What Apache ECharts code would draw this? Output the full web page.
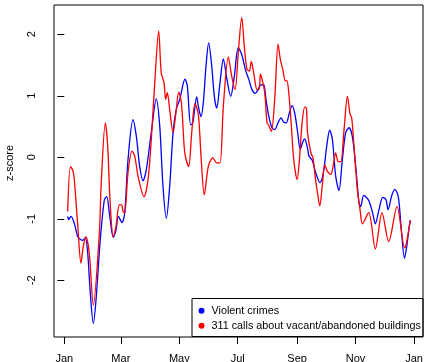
<!DOCTYPE html>
<html>
<head>
<meta charset="utf-8">
<script src="https://cdn.jsdelivr.net/npm/echarts@6/dist/echarts.min.js"></script>
<style>
  html, body { margin: 0; padding: 0; background: #fff; }
  #chart { width: 424px; height: 362px; }
</style>
</head>
<body>
<div id="chart"></div>
<script>
// day of year (0 = Jan 1) and z-score
var crimeDays = [3.5, 4.6, 7.0, 10.4, 14.0, 17.4, 19.2, 21.9, 24.4, 27.1, 30.3, 33.1, 37.3, 41.8, 44.3, 47.0, 51.1, 54.0, 56.4, 60.2, 63.0,
  66.5, 71.7, 75.2, 78.7, 82.2, 85.6, 90.8, 96.0, 99.6, 103.0, 106.5, 110.0, 113.5, 116.9, 120.5, 126.0, 128.4, 131.9, 134.0,
  138.2, 139.9, 142.7, 145.1, 147.9, 150.7, 153.9, 156.6, 159.1, 162.5, 166.0, 169.5, 173.7, 177.5, 181.6, 185.2, 188.9,
  192.5, 195.9, 199.4, 202.2, 204.6, 208.1, 210.5, 213.4, 216.8, 219.6, 223.1, 226.2, 229.0, 231.7, 234.9, 237.7, 240.5,
  243.6, 246.3, 248.9, 250.9, 254.1, 255.4, 258.9, 262.4, 266.9, 270.4, 273.9, 277.0, 279.8, 283.3, 286.7, 290.2, 293.7,
  297.2, 300.6, 304.2, 307.6, 309.4, 312.5, 317.7, 321.9, 324.6, 328.5, 332.4, 335.8, 337.9, 341.8, 344.9, 348.6, 351.5,
  355.1, 357.4, 360.1, 361.2];
var crimeZ = [-0.96, -1.01, -0.96, -1.07, -1.29, -1.34, -1.35, -1.31, -1.55, -2.2, -2.70, -2.32, -1.39, -0.69, -0.64, -0.90, -1.30, -1.18, -0.96, -1.06, -0.91,
  -0.04, 0.61, 0.34, -0.15, -0.38, -0.20, 0.40, 0.95, 0.51, -0.47, -0.99, -0.47, 0.40, 0.78, 0.94, 1.27, 1.16, 0.53, 0.55,
  0.98, 0.83, 0.66, 0.89, 1.48, 1.86, 1.48, 0.99, 0.80, 1.21, 1.60, 1.29, 0.99, 1.32, 1.78, 1.67, 1.43,
  1.27, 1.10, 1.04, 1.10, 1.17, 1.18, 0.94, 0.67, 0.48, 0.45, 0.56, 0.64, 0.57, 0.56, 0.72, 0.84, 0.72,
  0.40, 0.13, 0.25, 0.30, 0.13, 0.02, -0.05, -0.25, -0.41, -0.25, 0.18, 0.44, 0.29, -0.31, -0.54, -0.04, 0.40,
  0.48, 0.34, -0.15, -0.74, -0.80, -0.62, -0.70, -0.91, -1.08, -0.85, -0.65, -0.69, -0.85, -0.62, -0.52, -0.64, -1.12,
  -1.64, -1.45, -1.12, -1.03];

var callDays = [3.5, 6.5, 9.0, 10.4, 14.0, 17.4, 19.8, 22.5, 26.0, 30.3, 36.6, 38.4, 42.8, 45.3, 47.7, 51.1, 54.0, 57.5, 60.0, 61.4, 63.0,
  66.5, 70.7, 73.5, 77.0, 83.2, 87.4, 90.8, 94.4, 98.5, 101.2, 104.1, 105.8, 107.5, 110.0, 113.5, 116.9, 119.4, 122.2, 125.0,
  126.3, 129.8, 133.0, 136.4, 139.9, 142.7, 146.1, 150.3, 154.9, 159.1, 162.5, 166.0, 171.2, 174.7, 178.2, 181.6, 185.2,
  188.2, 190.7, 193.1, 195.2, 197.7, 201.2, 203.6, 204.6, 206.4, 209.2, 211.6, 213.4, 216.1, 219.6, 223.1, 225.5, 228.0,
  230.8, 232.2, 234.3, 237.0, 239.5, 243.0, 245.4, 248.2, 251.0, 252.7, 253.9, 257.4, 259.6, 261.8, 264.3, 266.6, 269.4,
  271.9, 274.6, 278.2, 280.5, 283.3, 286.0, 288.6, 292.0, 295.5, 298.3, 300.0, 302.4, 305.9, 308.7, 311.2, 317.7, 324.6,
  331.6, 338.6, 347.3, 355.3, 356.5, 361.2];
var callZ = [-0.88, -0.15, -0.22, -0.35, -1.1, -1.72, -1.45, -1.29, -1.55, -2.40, -1.23, -0.47, 0.56, 0.18, -0.69, -1.29, -1.12, -0.77, -0.78, -0.88, -0.91,
  -0.25, 0.10, 0.02, -0.31, -0.64, -0.36, 0.29, 1.21, 2.05, 1.37, 1.21, 0.94, 1.05, 0.78, 0.40, 0.78, 1.06, 0.89, 0.20,
  0.02, -0.15, 0.40, 0.87, 0.70, 0.02, -0.61, -0.15, -0.01, -0.09, -0.09, 0.83, 1.63, 1.32, 1.10, 1.70, 2.27,
  1.75, 1.43, 1.40, 1.56, 1.37, 1.10, 1.12, 1.35, 1.27, 1.05, 0.56, 0.52, 0.42, 0.94, 1.84, 1.59, 1.43,
  1.24, 1.25, 1.05, 0.51, -0.04, -0.36, -0.04, 0.56, 0.82, 0.80, 0.40, 0.07, -0.01, -0.31, -0.58, -0.79, -0.44,
  -0.12, -0.23, -0.28, -0.15, 0.07, -0.07, -0.07, 0.45, 0.99, 0.70, 0.64, 0.18, -0.53, -0.85, -1.08, -0.90, -1.49,
  -0.90, -1.37, -0.80, -1.47, -1.44, -1.02];

var monthDays = [0, 59, 120, 181, 243, 304, 365];
var monthLabels = ['Jan', 'Mar', 'May', 'Jul', 'Sep', 'Nov', 'Jan'];
var zTicks = [-2, -1, 0, 1, 2];

function pairs(xs, ys) {
  return xs.map(function (x, i) { return [x, ys[i]]; });
}

var font = 'Liberation Sans, Arial, sans-serif';
var chart = echarts.init(document.getElementById('chart'));

var option = {
  animation: false,
  textStyle: { fontFamily: font },
  grid: {
    left: 54, right: 1, top: 5, bottom: 25,
    outerBoundsMode: 'none',
    containLabel: false,
    show: true, borderColor: '#000', borderWidth: 1
  },
  legend: {
    orient: 'vertical',
    left: 198.5, top: 303.2,
    padding: 0,
    itemWidth: 6, itemHeight: 6, itemGap: 0,
    icon: 'circle',
    textStyle: { fontSize: 10.8, lineHeight: 15, color: '#000', fontFamily: font, padding: [0, 0, 0, 2] },
    data: ['Violent crimes', '311 calls about vacant/abandoned buildings']
  },
  graphic: [{
    type: 'rect',
    shape: { x: 192, y: 298.5, width: 231, height: 38 },
    style: { fill: 'none', stroke: '#000', lineWidth: 1 },
    z: 1
  }],
  xAxis: {
    type: 'value',
    min: -10.75, max: 374.4,
    axisLine: { show: false, onZero: false },
    splitLine: { show: false },
    axisTick: { show: true, length: 7, customValues: monthDays, lineStyle: { color: '#000' } },
    axisLabel: {
      customValues: monthDays,
      margin: 16,
      fontSize: 11, color: '#000', fontFamily: font,
      formatter: function (v) { return monthLabels[monthDays.indexOf(v)]; }
    }
  },
  yAxis: {
    type: 'value',
    min: -2.92, max: 2.475,
    name: 'z-score',
    nameLocation: 'middle',
    nameGap: 38.5,
    nameTextStyle: { fontSize: 11, color: '#000', fontFamily: font, padding: [0, 0, 0, 16] },
    axisLine: { show: false },
    splitLine: { show: false },
    axisTick: { show: true, length: 7, customValues: zTicks, lineStyle: { color: '#000' } },
    axisLabel: {
      customValues: zTicks,
      rotate: 90,
      margin: 16.5,
      fontSize: 11, color: '#000', fontFamily: font
    }
  },
  series: [
    {
      name: 'Violent crimes',
      type: 'line',
      data: pairs(crimeDays, crimeZ),
      smooth: 0.3,
      showSymbol: false,
      color: '#0000ff',
      lineStyle: { color: '#0000ff', width: 1.3 }
    },
    {
      name: '311 calls about vacant/abandoned buildings',
      type: 'line',
      data: pairs(callDays, callZ),
      smooth: 0.3,
      showSymbol: false,
      color: '#ff0000',
      lineStyle: { color: '#ff0000', width: 1.3 }
    }
  ]
};

chart.setOption(option);
</script>
</body>
</html>
